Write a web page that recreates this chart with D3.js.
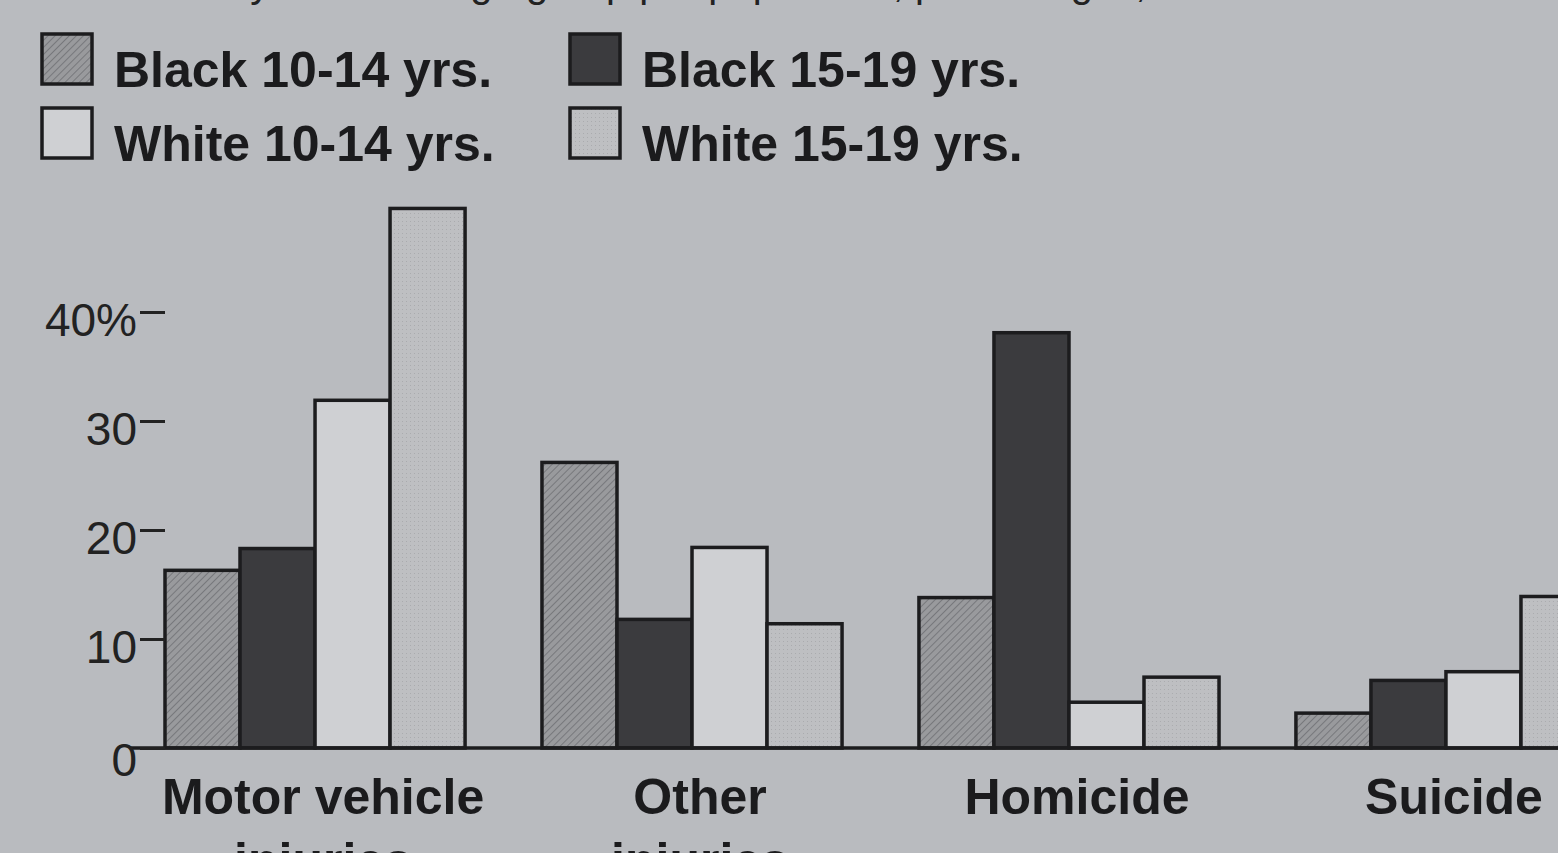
<!DOCTYPE html>
<html lang="en">
<head>
    <meta charset="UTF-8">
    <title>Death rate by race and age group</title>
    <script src="https://d3js.org/d3.v7.min.js"></script>
    <style>
        body {
            margin: 0;
            background: #b9bbbf;
        }

        svg {
            display: block;
            font-family: "Liberation Sans", Arial, Helvetica, sans-serif;
        }

        .legend-label, .cat-label {
            font-weight: bold;
            fill: #1b1b1d;
        }

        .y-axis text {
            font-size: 46px;
            fill: #222;
        }

        .y-axis line {
            stroke: #222;
            stroke-width: 3;
        }

        .bar {
            stroke: #1c1c1e;
            stroke-width: 3.5;
        }
    </style>
</head>
<body>
    <div id="chart"></div>
    <script>
        const categories = ["Motor vehicle\ninjuries", "Other\ninjuries", "Homicide", "Suicide"];
        const groups = ["Black 10-14 yrs.", "Black 15-19 yrs.", "White 10-14 yrs.", "White 15-19 yrs."];
        const black1014 = [16.3, 26.2, 13.8, 3.2];
        const black1519 = [18.3, 11.8, 38.1, 6.2];
        const white1014 = [31.9, 18.4, 4.2, 7.0];
        const white1519 = [49.5, 11.4, 6.5, 13.9];
        const yTicks = [0, 10, 20, 30, 40];
        const yTickLabels = ["0", "10", "20", "30", "40%"];

        const series = [black1014, black1519, white1014, white1519];

        const width = 1558;
        const height = 853;

        const svg = d3.select("#chart")
            .append("svg")
            .attr("width", width)
            .attr("height", height);

        // paper
        svg.append("rect")
            .attr("width", width)
            .attr("height", height)
            .attr("fill", "#b9bbbf");

        // fills: hatched gray, dark, light, stippled light
        const defs = svg.append("defs");

        const hatch = defs.append("pattern")
            .attr("id", "hatch")
            .attr("patternUnits", "userSpaceOnUse")
            .attr("width", 5)
            .attr("height", 5)
            .attr("patternTransform", "rotate(45)");
        hatch.append("rect").attr("width", 5).attr("height", 5).attr("fill", "#999a9d");
        hatch.append("line")
            .attr("x1", 0).attr("y1", 0).attr("x2", 0).attr("y2", 5)
            .attr("stroke", "#77787c").attr("stroke-width", 2);

        const stipple = defs.append("pattern")
            .attr("id", "stipple")
            .attr("patternUnits", "userSpaceOnUse")
            .attr("width", 4)
            .attr("height", 4);
        stipple.append("rect").attr("width", 4).attr("height", 4).attr("fill", "#bebfc2");
        stipple.append("rect").attr("x", 1).attr("y", 1).attr("width", 1).attr("height", 1).attr("fill", "#aaabae");

        const fills = ["url(#hatch)", "#3b3b3e", "#cfd0d3", "url(#stipple)"];

        // title (cut off at the top of the photo)
        svg.append("text")
            .attr("x", 30)
            .attr("y", -3)
            .attr("font-size", 40)
            .attr("fill", "#222")
            .text("Death rate by race and age group per population, percentages, 1989");

        // scales
        const x0 = d3.scaleBand()
            .domain(categories)
            .range([165, 1596])
            .paddingInner(0.204)
            .paddingOuter(0);

        const x1 = d3.scaleBand()
            .domain(groups)
            .range([0, x0.bandwidth()])
            .padding(0);

        const y = d3.scaleLinear()
            .domain([0, 40])
            .range([748, 312]);

        // bars
        const rows = categories.map((c, i) => groups.map((g, j) => ({ cat: c, group: g, value: series[j][i], k: j })));

        svg.append("g")
            .selectAll("g")
            .data(rows)
            .join("g")
            .attr("transform", (d, i) => `translate(${x0(categories[i])},0)`)
            .selectAll("rect")
            .data(d => d)
            .join("rect")
            .attr("class", "bar")
            .attr("x", d => x1(d.group))
            .attr("y", d => y(d.value))
            .attr("width", x1.bandwidth())
            .attr("height", d => y(0) - y(d.value))
            .attr("fill", d => fills[d.k]);

        // baseline
        svg.append("line")
            .attr("x1", 130)
            .attr("x2", width)
            .attr("y1", y(0))
            .attr("y2", y(0))
            .attr("stroke", "#1c1c1e")
            .attr("stroke-width", 3.5);

        // y axis
        const yAxis = svg.append("g")
            .attr("class", "y-axis")
            .attr("transform", "translate(165,0)")
            .call(d3.axisLeft(y)
                .tickValues(yTicks)
                .tickSize(25)
                .tickPadding(3)
                .tickFormat((d, i) => yTickLabels[i]));
        yAxis.select(".domain").remove();
        yAxis.selectAll("text").attr("dy", (d, i) => i === 0 ? "0.6em" : "0.5em");

        // x axis labels
        const xAxis = svg.append("g")
            .attr("transform", `translate(0,${y(0)})`)
            .call(d3.axisBottom(x0).tickSize(0).tickFormat(""));
        xAxis.select(".domain").remove();

        xAxis.selectAll(".tick")
            .each(function(d) {
                const t = d3.select(this).append("text")
                    .attr("class", "cat-label")
                    .attr("text-anchor", "middle")
                    .attr("font-size", 50);
                d.split("\n").forEach((line, i) => {
                    t.append("tspan")
                        .attr("x", 8)
                        .attr("y", 66 + i * 64)
                        .text(line);
                });
            });

        // legend
        const legendX = [42, 570];
        const legendY = [34, 108];
        const legend = svg.append("g");

        groups.forEach((g, i) => {
            const col = i % 2;
            const row = Math.floor(i / 2);
            const lg = legend.append("g")
                .attr("transform", `translate(${legendX[col]},${legendY[row]})`);
            lg.append("rect")
                .attr("class", "bar")
                .attr("width", 50)
                .attr("height", 50)
                .attr("fill", fills[i]);
            lg.append("text")
                .attr("class", "legend-label")
                .attr("font-size", 50)
                .attr("x", 72)
                .attr("y", 53)
                .text(g);
        });
    </script>
</body>
</html>
